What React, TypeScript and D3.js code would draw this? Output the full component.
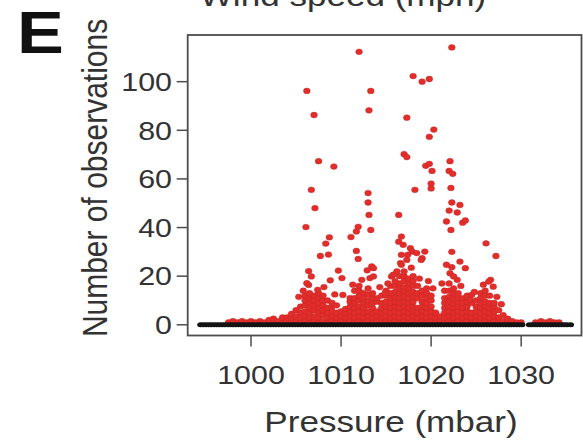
import React from 'react';
import * as d3 from 'd3';

const W = 583;
const H = 441;
const SX = 1.17; // horizontal stretch of the original figure

const PANEL = 'E';
const TITLE_TOP = 'Wind speed (mph)';
const X_LABEL = 'Pressure (mbar)';
const Y_LABEL = 'Number of observations';
const X_TICKS = [1000, 1010, 1020, 1030];
const Y_TICKS = [0, 20, 40, 60, 80, 100];

// isolated red observations [pressure, count]
const RED_OUTLIERS: [number, number][] = [
  [1012.0, 112.3], [1022.3, 114.1], [1018.0, 102.3], [1019.0, 100.0], [1019.8, 101.1],
  [1006.2, 96.2], [1013.3, 96.2], [1007.0, 86.3], [1013.1, 88.2], [1017.3, 85.2],
  [1020.3, 80.3], [1019.8, 77.3], [1007.5, 67.3], [1009.2, 65.1], [1017.0, 70.2],
  [1017.3, 69.0], [1019.4, 65.4], [1019.8, 66.2], [1020.1, 63.3], [1022.1, 67.3],
  [1022.0, 63.3], [1022.4, 62.1], [1006.7, 55.5], [1020.0, 58.1], [1020.0, 56.1],
  [1022.2, 56.3], [1018.2, 55.5], [1013.0, 54.2], [1013.0, 50.3], [1013.1, 45.2],
  [1007.1, 48.0], [1006.1, 40.2], [1013.3, 39.0], [1011.9, 40.3], [1011.7, 38.4],
  [1011.1, 36.1], [1008.7, 36.0], [1008.3, 33.4], [1011.7, 30.4], [1011.9, 27.1],
  [1007.7, 28.3], [1008.6, 28.9], [1006.4, 22.1], [1006.7, 19.9], [1008.8, 18.3],
  [1009.7, 22.3], [1010.1, 19.2], [1006.4, 16.4], [1007.4, 14.4], [1005.3, 11.5],
  [1006.2, 17.1], [1012.9, 22.4], [1013.4, 24.0], [1013.2, 19.2], [1013.6, 23.3],
  [1010.2, 12.3], [1022.3, 50.3], [1023.2, 49.3], [1022.0, 47.0], [1022.9, 46.2],
  [1021.7, 42.5], [1022.2, 39.0], [1023.5, 42.0], [1023.8, 42.9], [1016.4, 45.2],
  [1026.1, 33.5], [1027.2, 28.3], [1016.7, 36.3], [1016.4, 34.2], [1016.9, 32.9],
  [1017.7, 31.5], [1017.9, 30.1], [1016.7, 28.8], [1017.4, 28.8], [1019.3, 30.1],
  [1019.0, 27.4], [1018.4, 29.5], [1016.6, 25.4], [1016.7, 24.7], [1017.3, 26.7],
  [1018.9, 26.7], [1022.3, 30.0], [1021.7, 24.7], [1022.3, 23.7], [1023.2, 26.0],
  [1023.8, 23.3], [1022.9, 18.5], [1022.1, 21.2], [1022.5, 19.9], [1026.6, 18.5],
  [1026.9, 15.7], [1026.4, 17.8], [1015.6, 19.9], [1015.8, 20.6], [1014.9, 13.0],
  [1013.6, 19.9], [1024.5, 12.3], [1024.3, 10.3],
  [1005.8, 14.0], [1008.1, 15.5], [1009.3, 12.5], [1011.3, 16.5], [1012.3, 18.5],
  [1014.3, 15.5], [1015.2, 17.0], [1016.2, 22.0], [1017.8, 23.5], [1018.7, 19.0],
  [1019.7, 18.0], [1020.2, 15.0], [1021.2, 17.0], [1023.3, 16.0], [1024.8, 13.5],
  [1025.8, 16.5], [1027.3, 11.5], [1027.8, 8.5],
];

// dense red observations, one string per pressure: "pressure:counts"
const RED_COLUMNS: string[] = [
  '997.5:1', '998.0:1.5', '998.5:1', '999.0:1.5', '999.5:1', '1000.0:1.5', '1000.5:1',
  '1001.0:1.5', '1001.5:1', '1002.0:2', '1002.5:1,2.5', '1003.0:1.5', '1003.5:1,3',
  '1004.0:1.5,3', '1004.5:1,3,4.5', '1005.0:1.5,3.5,6', '1005.5:1,3,5,7.5',
  '1006.0:1.5,3.5,5.5,8,10,12', '1006.5:1,3,5,7,9,11,13', '1007.0:1.5,3.5,6,8,10,12',
  '1007.5:1,3,5,7,9,11,13', '1008.0:1.5,4,6,8,10,12', '1008.5:1,3,5,7,10',
  '1009.0:1.5,3.5,5.5,7.5,9', '1009.5:1,3,5,8', '1010.0:1.5,3.5,5.5', '1010.5:1,3,5,6.5',
  '1011.0:1.5,3.5,5.5,7.5,9.5,11', '1011.5:1,3,5,7,9,11,14',
  '1012.0:1.5,3.5,5.5,7.5,10,12,14,16', '1012.5:1,3,5,7,9,11,13',
  '1013.0:1.5,3.5,5.5,8,10,12.5,15', '1013.5:1,3,5,7,9,11,13',
  '1014.0:1.5,3.5,5.5,9.5,11', '1014.5:1,3,5,7,9,12',
  '1015.0:1.5,3.5,5.5,7.5,9.5,12,14', '1015.5:1,3,5,7,9,11,13,16',
  '1016.0:1.5,3.5,5.5,7.5,9.5,11.5,13.5,16,18', '1016.5:1,3,5,7,9,11,13,15,17,20',
  '1017.0:1.5,3.5,5.5,7.5,9.5,11.5,13.5,15.5,18,20,22', '1017.5:1,3,5,7,9,11,13,15,17,19',
  '1018.0:1.5,3.5,5.5,7.5,9.5,11.5,13.5,16,18,20', '1018.5:1,3,5,7,11,13,16',
  '1019.0:1.5,3.5,5.5,7.5,9.5,12,14', '1019.5:1,3,5,7,9,11,13,15',
  '1020.0:1.5,3.5,5.5,7.5,10,12', '1020.5:1,3,5', '1021.0:1.5,3.5',
  '1021.5:1,3,5,7,9,11,14', '1022.0:1.5,3.5,5.5,7.5,9.5,11.5,14,17',
  '1022.5:1,3,5,7,9,11,13,15', '1023.0:1.5,3.5,5.5,7.5,9.5,11,13',
  '1023.5:1,3,5,7,9,11', '1024.0:1.5,3.5,5.5,7.5,9.5,12', '1024.5:1,3,5,9',
  '1025.0:1.5,3.5,5.5,7.5,10', '1025.5:1,3,5,7,9,11,13', '1026.0:1.5,3.5,5.5,7.5,9.5,12,14',
  '1026.5:1,3,5,7,9,12', '1027.0:1.5,3.5,5.5,7.5,9', '1027.5:1,3,6', '1028.0:1.5,4',
  '1028.5:1,2.5', '1029.0:1.5', '1029.5:1', '1030.0:1',
  '1031.6:1', '1032.2:1.5', '1032.7:1', '1033.2:1.5', '1033.7:1', '1034.2:1',
];

// pressures with zero observations (black)
const BLACK_ZERO =
  '994.4 994.7 995.0 995.3 995.6 995.9 996.2 996.5 996.8 997.1 997.4 997.7 998.0 998.3 998.6 998.9 ' +
  '999.2 999.5 999.8 1000.1 1000.4 1000.7 1001.0 1001.3 1001.6 1001.9 1002.2 1002.5 1002.8 1003.1 ' +
  '1003.4 1003.7 1004.0 1004.3 1004.6 1004.9 1005.2 1005.5 1005.8 1006.1 1006.4 1006.7 1007.0 1007.3 ' +
  '1007.6 1007.9 1008.2 1008.5 1008.8 1009.1 1009.4 1009.7 1010.0 1010.3 1010.6 1010.9 1011.2 1011.5 ' +
  '1011.8 1012.1 1012.4 1012.7 1013.0 1013.3 1013.6 1013.9 1014.2 1014.5 1014.8 1015.1 1015.4 1015.7 ' +
  '1016.0 1016.3 1016.6 1016.9 1017.2 1017.5 1017.8 1018.1 1018.4 1018.7 1019.0 1019.3 1019.6 1019.9 ' +
  '1020.2 1020.5 1020.8 1021.1 1021.4 1021.7 1022.0 1022.3 1022.6 1022.9 1023.2 1023.5 1023.8 1024.1 ' +
  '1024.4 1024.7 1025.0 1025.3 1025.6 1025.9 1026.2 1026.5 1026.8 1027.1 1027.4 1027.7 1028.0 1028.3 ' +
  '1028.6 1028.9 1029.2 1029.5 1029.8 1030.1 ' +
  '1030.9 1031.2 1031.5 1031.8 1032.1 1032.4 1032.7 1033.0 1033.3 1033.6 1033.9 1034.2 1034.5 1034.8 1035.1 1035.5';

const FONT = '"Liberation Sans", Arial, Helvetica, sans-serif';
const TEXT = '#333333';
const AXIS = '#4d4d4d';
const RED = '#e32d2a';
const RED_EDGE = '#b82626';

export default function App() {
  const left = 187.7, right = 581.5, top = 35, bottom = 335.5;
  const x = d3.scaleLinear().domain([992.97, 1036.7]).range([left, right]);
  const y = d3.scaleLinear().domain([-4.4, 119.2]).range([bottom, top]);

  const redPts: [number, number][] = [];
  RED_COLUMNS.forEach((s) => {
    const [p, vs] = s.split(':');
    vs.split(',').forEach((v) => redPts.push([+p, +v]));
  });
  RED_OUTLIERS.forEach((d) => redPts.push(d));
  const blackPts = BLACK_ZERO.trim().split(/\s+/).map(Number);

  const rx = 3.4, ry = 2.9;
  const tickLen = 11;

  const txt = (tx: number, ty: number, extra = '') => `translate(${tx},${ty}) scale(${SX},1)${extra}`;

  return (
    <svg width={W} height={H} style={{ position: 'absolute', left: 0, top: 0, background: '#fff' }}
      fontFamily={FONT}>
      <rect x={0} y={0} width={W} height={H} fill="#ffffff" />
      {/* panel letter */}
      <text transform={txt(17, 53)} fontSize={60} fontWeight="bold" fill="#111">{PANEL}</text>
      {/* top (cut) title */}
      <text transform={txt(343, 6)} fontSize={30} textAnchor="middle" fill={TEXT}>{TITLE_TOP}</text>

      {/* points */}
      <g>
        {redPts.map((d, i) => (
          <ellipse key={'r' + i} cx={x(d[0])} cy={y(d[1])} rx={rx} ry={ry}
            fill={RED} stroke={RED_EDGE} strokeWidth={0.4} />
        ))}
        {blackPts.map((p, i) => (
          <ellipse key={'b' + i} cx={x(p)} cy={y(0)} rx={rx} ry={2.5} fill="#151515" />
        ))}
      </g>

      {/* frame */}
      <rect x={left} y={top} width={right - left} height={bottom - top} fill="none"
        stroke={AXIS} strokeWidth={1.8} />

      {/* x axis */}
      {X_TICKS.map((t) => (
        <g key={'xt' + t}>
          <line x1={x(t)} x2={x(t)} y1={bottom} y2={bottom + tickLen} stroke={AXIS} strokeWidth={1.5} />
          <text transform={txt(x(t), 384)} fontSize={26} textAnchor="middle" fill={TEXT}>{t}</text>
        </g>
      ))}
      {/* y axis */}
      {Y_TICKS.map((t) => (
        <g key={'yt' + t}>
          <line x1={left - tickLen} x2={left} y1={y(t)} y2={y(t)} stroke={AXIS} strokeWidth={1.5} />
          <text transform={txt(172, y(t) + 9.3)} fontSize={26} textAnchor="end" fill={TEXT}>{t}</text>
        </g>
      ))}

      <text transform={txt(391, 432)} fontSize={30} textAnchor="middle" fill={TEXT}>{X_LABEL}</text>
      <text transform={txt(106.5, 178, ' rotate(-90)')} fontSize={30} textAnchor="middle" fill={TEXT}>{Y_LABEL}</text>
    </svg>
  );
}
